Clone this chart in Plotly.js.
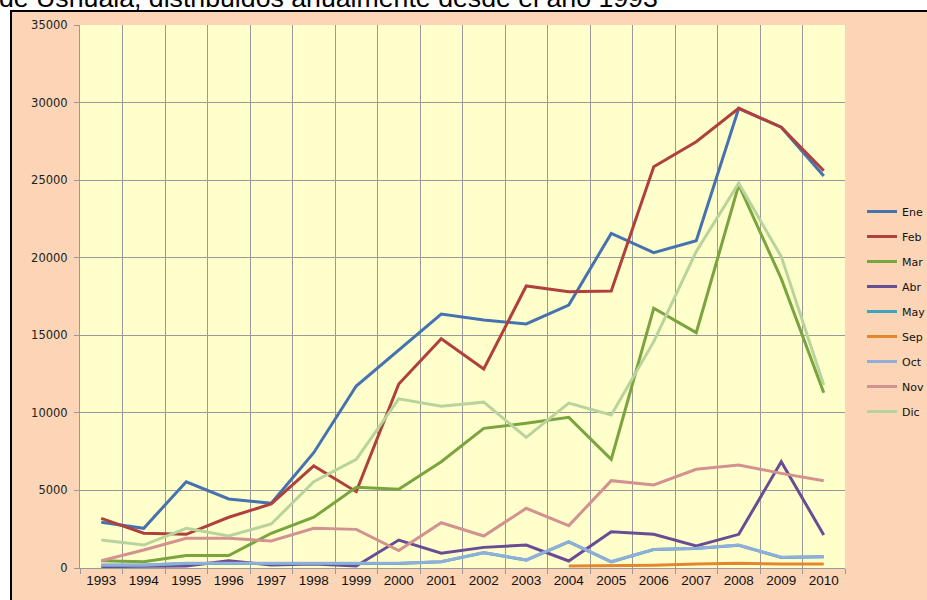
<!DOCTYPE html>
<html>
<head>
<meta charset="utf-8">
<script src="https://cdn.plot.ly/plotly-3.0.1.min.js"></script>
<style>
html,body{margin:0;padding:0;background:#ffffff;}
#chart{width:927px;height:600px;}
</style>
</head>
<body>
<div id="chart"></div>
<script>
var years = ["1993","1994","1995","1996","1997","1998","1999","2000","2001","2002","2003","2004","2005","2006","2007","2008","2009","2010"];
var seriesNames = ["Ene","Feb","Mar","Abr","May","Sep","Oct","Nov","Dic"];
var ene = [2950, 2560, 5560, 4450, 4170, 7430, 11730, 14050, 16370, 15990, 15730, 16950, 21570, 20330, 21100, 29630, 28410, 25270];
var feb = [3200, 2240, 2170, 3270, 4130, 6580, 4920, 11860, 14780, 12830, 18180, 17810, 17860, 25870, 27480, 29630, 28410, 25610];
var mar = [470, 410, 800, 800, 2240, 3270, 5200, 5070, 6850, 9000, 9330, 9710, 7000, 16740, 15170, 24690, 18650, 11300];
var abr = [90, 90, 130, 470, 190, 260, 130, 1800, 950, 1330, 1480, 450, 2340, 2170, 1420, 2170, 6850, 2130];
var may = [180, 180, 290, 290, 290, 290, 290, 290, 400, 980, 510, 1690, 400, 1190, 1260, 1470, 680, 720];
var sep = [null, null, null, null, null, null, null, null, null, null, null, 130, 150, 180, 250, 300, 250, 250];
var oct = [190, 190, 300, 300, 300, 300, 300, 300, 410, 990, 520, 1700, 410, 1200, 1270, 1480, 690, 730];
var nov = [470, 1160, 1910, 1910, 1740, 2560, 2490, 1120, 2920, 2060, 3850, 2730, 5630, 5350, 6360, 6640, 6100, 5630];
var dic = [1810, 1480, 2560, 2060, 2840, 5560, 7010, 10900, 10420, 10690, 8420, 10630, 9860, 14590, 20400, 24800, 20070, 11800];
var yTicks = [0, 5000, 10000, 15000, 20000, 25000, 30000, 35000];
var titleText = "de Ushuaia, distribuidos anualmente desde el año 1993";

var values = [ene, feb, mar, abr, may, sep, oct, nov, dic];
var colors = ["#4672B0", "#B0403D", "#7AA43E", "#6A4C94", "#3FA3BE", "#E58530", "#8FAEDA", "#D39290", "#B8D49C"];

var traces = seriesNames.map(function(n, i){
  return {
    type: "scatter", mode: "lines", name: n, x: years, y: values[i],
    line: {color: colors[i], width: 3}, legendgroup: "g" + i,
    connectgaps: false, hoverinfo: "skip"
  };
});

var L = 80, R = 845, T = 25, B = 568, W = 927, H = 600;
var pw = R - L, ph = B - T;
function px(x){ return (x - L) / pw; }
function py(y){ return (B - y) / ph; }

var layout = {
  width: W, height: H,
  margin: {l: L, r: W - R, t: T, b: H - B, autoexpand: false},
  paper_bgcolor: "#ffffff",
  plot_bgcolor: "rgba(0,0,0,0)",
  showlegend: true,
  font: {family: "DejaVu Sans, sans-serif", color: "#222222"},
  xaxis: {
    type: "category", tickson: "boundaries", showgrid: true, gridcolor: "#999999", gridwidth: 1,
    ticks: "outside", ticklen: 5, tickcolor: "#999999",
    showline: true, linecolor: "#999999", linewidth: 1,
    tickfont: {family: "Liberation Sans, Arial, sans-serif", size: 13.5, color: "#111111"},
    range: [-0.5, 17.5], fixedrange: true, zeroline: false
  },
  yaxis: {
    range: [0, 35000], tickvals: yTicks, ticktext: yTicks.map(String),
    showgrid: true, gridcolor: "#999999", gridwidth: 1,
    ticks: "outside", ticklen: 5, tickcolor: "#999999",
    showline: true, linecolor: "#999999", linewidth: 1, zeroline: false,
    tickfont: {family: "DejaVu Sans, sans-serif", size: 11.5, color: "#222222"},
    ticklabelstandoff: 4,
    fixedrange: true
  },
  legend: {
    x: px(862), xanchor: "left", y: py(197), yanchor: "top",
    bgcolor: "rgba(0,0,0,0)", borderwidth: 0,
    font: {family: "DejaVu Sans, sans-serif", size: 11, color: "#111111"},
    tracegroupgap: 6, itemwidth: 30
  },
  shapes: [
    {type: "rect", xref: "paper", yref: "paper", layer: "below",
     x0: px(11), x1: px(940), y0: py(620), y1: py(11),
     fillcolor: "#FBD5B5", line: {color: "#000000", width: 2}},
    {type: "rect", xref: "paper", yref: "paper", layer: "below",
     x0: 0, x1: 1, y0: 0, y1: 1,
     fillcolor: "#FFFFCC", line: {width: 0}}
  ],
  annotations: [
    {text: titleText, xref: "paper", yref: "paper", x: px(-3), xanchor: "left",
     y: py(-2), yanchor: "middle", showarrow: false,
     font: {family: "Liberation Sans, Arial, sans-serif", size: 26.7, color: "#000000"}}
  ]
};

Plotly.newPlot("chart", traces, layout, {displayModeBar: false, staticPlot: true});
</script>
</body>
</html>
